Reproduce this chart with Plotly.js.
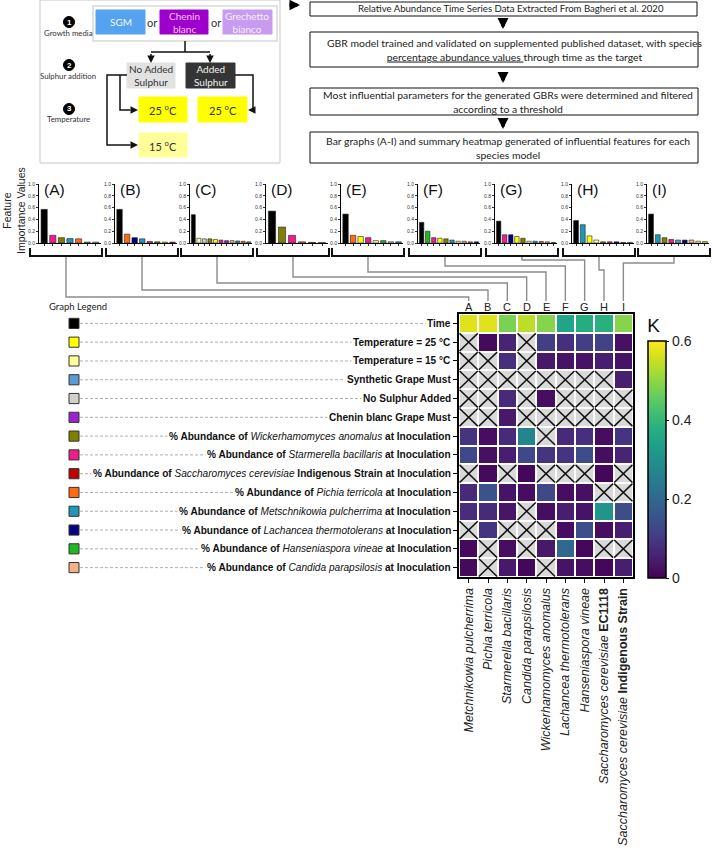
<!DOCTYPE html>
<html><head><meta charset="utf-8">
<script src="https://cdn.plot.ly/plotly-3.0.1.min.js"></script>
<style>html,body{margin:0;padding:0;background:#fff}</style>
</head><body><div id="chart" style="width:713px;height:863px"></div>
<script>
// ---------------- DATA ----------------
const speciesLetters = ['A','B','C','D','E','F','G','H','I'];
const speciesLabels = [
  '<i>Metchnikowia pulcherrima</i>',
  '<i>Pichia terricola</i>',
  '<i>Starmerella bacillaris</i>',
  '<i>Candida parapsilosis</i>',
  '<i>Wickerhamomyces anomalus</i>',
  '<i>Lachancea thermotolerans</i>',
  '<i>Hanseniaspora vineae</i>',
  '<i>Saccharomyces cerevisiae</i> <b>EC1118</b>',
  '<i>Saccharomyces cerevisiae</i> <b>Indigenous Strain</b>'
];
const featureNames = [
  '<b>Time</b>',
  '<b>Temperature = 25 °C</b>',
  '<b>Temperature = 15 °C</b>',
  '<b>Synthetic Grape Must</b>',
  '<b>No Sulphur Added</b>',
  '<b>Chenin blanc Grape Must</b>',
  '<b>% Abundance of </b><i>Wickerhamomyces anomalus</i><b> at Inoculation</b>',
  '<b>% Abundance of </b><i>Starmerella bacillaris</i><b> at Inoculation</b>',
  '<b>% Abundance of </b><i>Saccharomyces cerevisiae</i><b> Indigenous Strain at Inoculation</b>',
  '<b>% Abundance of </b><i>Pichia terricola</i><b> at Inoculation</b>',
  '<b>% Abundance of </b><i>Metschnikowia pulcherrima</i><b> at Inoculation</b>',
  '<b>% Abundance of </b><i>Lachancea thermotolerans</i><b> at Inoculation</b>',
  '<b>% Abundance of </b><i>Hanseniaspora vineae</i><b> at Inoculation</b>',
  '<b>% Abundance of </b><i>Candida parapsilosis</i><b> at Inoculation</b>'
];
const featureColors = ['#000000','#ffff00','#ffff99','#5b9bd5','#d0d0d0','#a020d0','#7f7f00','#ec1e8c','#c00000','#ff6a13','#1f97b8','#000080','#22b822','#f4b183'];

// feature importance per species column A..I (null = below threshold, shown as X)
const timeVals     = [0.57, 0.57, 0.48, 0.54, 0.49, 0.35, 0.37, 0.38, 0.49];
const temp25Vals   = [null, 0.015,0.06, null, 0.11, 0.08, 0.11, 0.12, 0.025];
const temp15Vals   = [null, null, 0.08, null, 0.04, 0.03, 0.03, 0.05, 0.03];
const sgmVals      = [null, null, null, null, null, null, null, null, 0.05];
const noSulphVals  = [null, null, 0.07, null, 0.02, null, null, null, null];
const cheninVals   = [null, null, 0.04, null, null, null, null, null, null];
const wickVals     = [0.09, 0.02, 0.07, 0.27, null, 0.07, 0.08, 0.02, 0.09];
const starmVals    = [0.13, 0.025,0.05, 0.13, 0.09, 0.09, 0.14, 0.02, 0.06];
const sacchIndVals = [null, 0.015,null, 0.01, null, null, null, 0.01, null];
const pichiaVals   = [0.07, 0.15, 0.03, 0.02, 0.13, 0.02, 0.025,null, null];
const metschVals   = [0.075,0.07, 0.035,null, 0.02, 0.05, 0.03, 0.31, 0.14];
const lachVals     = [null, 0.09, null, null, null, 0.02, 0.14, 0.02, 0.05];
const hansVals     = [0.015,null, 0.02, null, 0.04, 0.20, 0.01, null, null];
const candidaVals  = [0.015,null, 0.04, 0.01, null, 0.03, 0.02, 0.01, 0.05];

const importance = [timeVals,temp25Vals,temp15Vals,sgmVals,noSulphVals,cheninVals,wickVals,starmVals,sacchIndVals,pichiaVals,metschVals,lachVals,hansVals,candidaVals];

// ---------------- LAYOUT HELPERS ----------------
const W=713,H=863;
const px=x=>x/W, py=y=>1-y/H;
const ARIAL='Liberation Sans, Arial, sans-serif';
const CAL='Lato, Open Sans, sans-serif';
const shapes=[], annotations=[];
function rect(x0,y0,x1,y1,fill,line,lw){shapes.push({type:'rect',xref:'paper',yref:'paper',x0:px(x0),x1:px(x1),y0:py(y1),y1:py(y0),fillcolor:fill,line:{color:line||fill,width:lw==null?1:lw}});}
function pathPx(pts,color,w,dash){
  const d=pts.map((p,i)=>(i?'L':'M')+px(p[0])+','+py(p[1])).join(' ');
  shapes.push({type:'path',xref:'paper',yref:'paper',path:d,line:{color,width:w,dash:dash||'solid'}});
}
function txt(x,y,t,size,color,family,extra){annotations.push(Object.assign({xref:'paper',yref:'paper',x:px(x),y:py(y),text:t,showarrow:false,font:{size,color,family:family||CAL},xanchor:'center',yanchor:'middle'},extra||{}));}
function arrow(hx,hy,ax,ay,w,color,size){annotations.push({xref:'paper',yref:'paper',x:px(hx),y:py(hy),ax,ay,text:' ',showarrow:true,arrowhead:2,arrowsize:size||1,arrowwidth:w||1.2,arrowcolor:color||'#111',standoff:0,font:{size:1}});}
function circleNum(x,y,n){shapes.push({type:'circle',xref:'paper',yref:'paper',x0:px(x-5.5),x1:px(x+5.5),y0:py(y+5.5),y1:py(y-5.5),fillcolor:'#000',line:{color:'#000',width:1}});txt(x,y,'<b>'+n+'</b>',8,'#fff',ARIAL);}

// ---------------- TOP-LEFT FLOW ----------------
rect(40,0,280,163,'rgba(0,0,0,0)','#c8c8c8',1);
rect(93,6,277,41,'#ffffff','#d8d8d8',1.5);
circleNum(69,22,1); txt(68,33,'Growth media',7.8,'#333');
circleNum(69,65,2); txt(68,76,'Sulphur addition',7.8,'#333');
circleNum(69,109,3); txt(68,119,'Temperature',7.8,'#333');
rect(96,10,145,34,'#55a3f0'); txt(120.5,22,'SGM',10,'#f4f9ff');
txt(151.5,23,'or',11,'#333');
rect(160,10,208,34,'#9d00cc'); txt(184,22,'Chenin<br>blanc',10,'#ffc4ff');
txt(216,23,'or',11,'#333');
rect(223,10,272,34,'#c79cf0'); txt(247.5,22,'Grechetto<br>bianco',10,'#f7eeff');
pathPx([[185,41],[185,52]],'#111',1.5);
pathPx([[151,52],[210,52]],'#111',1.5);
arrow(151,63,0,-11,1.5); arrow(210,63,0,-11,1.5);
rect(127,63,175,88,'#e2e2e2'); txt(151,75.5,'No Added<br>Sulphur',10,'#333');
rect(186,63,235,88,'#353535'); txt(210.5,75.5,'Added<br>Sulphur',10,'#f2f2f2');
pathPx([[127,75],[107,75],[107,145],[130,145]],'#111',1.5);
pathPx([[120,75],[120,110],[130,110]],'#111',1.5);
arrow(138,110,-9,0,1.5); arrow(138,145,-9,0,1.5);
pathPx([[235,75],[253,75],[253,110],[251,110]],'#111',1.5);
arrow(248,110,5,0,1.5);
rect(139,97,187,122,'#ffff00'); txt(163,109.5,'25 <sup>o</sup>C',11,'#333');
rect(198,97,247,122,'#ffff00'); txt(222.5,109.5,'25 <sup>o</sup>C',11,'#333');
rect(139,133,187,157,'#ffff99'); txt(163,145,'15 <sup>o</sup>C',11,'#333');

// ---------------- TOP-RIGHT FLOW ----------------
arrow(300,5,-12,0,3.5,'#000',0.6);
rect(310,2,697,16,'#fff','#111',1);
txt(511,9,'Relative Abundance Time Series Data Extracted From Bagheri et al. 2020',9.6,'#222');
arrow(503,29,0,-8,4,'#000',0.55);
rect(310,32,698,67,'#fff','#111',1);
txt(514,50,'GBR model trained and validated on supplemented published dataset, with species<br><span style="text-decoration:underline">percentage abundance values </span>through time as the target',10.4,'#222');
arrow(503,83,0,-8,4,'#000',0.55);
rect(310,88,698,115,'#fff','#111',1);
txt(508,102,'Most influential parameters for the generated GBRs were determined and filtered<br>according to a threshold',10.4,'#222');
arrow(503,129,0,-8,4,'#000',0.55);
rect(310,132,698,163,'#fff','#111',1);
txt(508,147.5,'Bar graphs (A-I) and summary heatmap generated of influential features for each<br>species model',10.4,'#222');

// ---------------- HEATMAP ----------------
const hmX0=459,hmX1=633,hmY0=314,hmY1=577;
const colIdx=speciesLetters.map((_,j)=>j);
const rowIdx=featureNames.map((_,i)=>i);
const zMissing=importance.map(r=>r.map(v=>v===null?1:null));
const xsX=[],ysX=[];
importance.forEach((r,i)=>r.forEach((v,j)=>{if(v===null){xsX.push(j-0.47,j+0.47,null,j-0.47,j+0.47,null);ysX.push(i-0.47,i+0.47,null,i+0.47,i-0.47,null);}}));

const traces=[];
traces.push({type:'heatmap',z:importance,x:colIdx,y:rowIdx,colorscale:'Viridis',zmin:0,zmax:0.6,xgap:2,ygap:2,hoverinfo:'skip',
  colorbar:{x:px(648),xanchor:'left',xpad:0,ypad:0,y:py(578),yanchor:'bottom',len:(578-315)/H,lenmode:'fraction',thickness:18,thicknessmode:'pixels',
    outlinewidth:1.5,outlinecolor:'#000',tickvals:[0,0.2,0.4,0.6],ticktext:['0','0.2','0.4','0.6'],ticks:'outside',ticklen:3,tickcolor:'#000',
    tickfont:{size:14,family:ARIAL,color:'#222'},title:{text:'K',side:'top',font:{size:19,family:ARIAL,color:'#111'}}}});
traces.push({type:'heatmap',z:zMissing,x:colIdx,y:rowIdx,colorscale:[[0,'#d9d9d9'],[1,'#d9d9d9']],showscale:false,xgap:2,ygap:2,hoverinfo:'skip'});
traces.push({type:'scatter',mode:'lines',x:xsX,y:ysX,line:{color:'#111',width:1.5},hoverinfo:'skip',connectgaps:false});

const layout={width:W,height:H,margin:{l:0,r:0,t:0,b:0},autosize:false,showlegend:false,paper_bgcolor:'#fff',plot_bgcolor:'#fff',font:{family:ARIAL},
  xaxis:{domain:[px(hmX0),px(hmX1)],range:[-0.5,8.5],tickvals:colIdx,ticktext:speciesLabels,tickangle:-90,tickfont:{size:12.5,family:ARIAL,color:'#222'},
    ticks:'outside',ticklen:4,tickcolor:'#000',showline:true,mirror:true,linewidth:2,linecolor:'#000',zeroline:false,showgrid:false,anchor:'y',fixedrange:true},
  yaxis:{domain:[py(hmY1),py(hmY0)],range:[13.5,-0.5],tickvals:rowIdx,showticklabels:false,ticks:'outside',ticklen:4,tickcolor:'#000',showline:true,mirror:true,linewidth:2,linecolor:'#000',zeroline:false,showgrid:false,anchor:'x',fixedrange:true}
};

// row labels, legend swatches and dashed leaders
featureNames.forEach((name,i)=>{
  shapes.push({type:'line',xref:'paper',yref:'y',x0:px(80),x1:px(452),y0:i,y1:i,line:{color:'#9a9a9a',width:0.8,dash:'3px,2px'},layer:'below'});
  shapes.push({type:'rect',xref:'paper',yref:'y',x0:px(69),x1:px(79),y0:i-0.27,y1:i+0.27,fillcolor:featureColors[i],line:{color:'#333',width:1}});
  annotations.push({xref:'paper',yref:'y',x:px(453),y:i,text:name,showarrow:false,xanchor:'right',yanchor:'middle',bgcolor:'#fff',borderpad:1,font:{size:10.1,family:ARIAL,color:'#111'}});
});
txt(47,307,'Graph Legend',9.5,'#222',CAL,{xanchor:'left'});
speciesLetters.forEach((l,j)=>annotations.push({xref:'x',yref:'paper',x:j,y:py(307),text:l,showarrow:false,font:{size:11,family:ARIAL,color:'#222'},yanchor:'middle'}));

// ---------------- BAR PANELS ----------------
const panelAxisX=[39,115,190,266,341,418,495,572,647];
const panelW=62, barTop=184, barBot=243;
const levels=[297,290,283,277,272,266,260,270,263];
speciesLetters.forEach((letter,j)=>{
  const items=importance.map((r,i)=>({v:r[j],c:featureColors[i]})).filter(o=>o.v!==null).sort((a,b)=>b.v-a.v);
  const n=items.length, k=j+2;
  traces.push({type:'bar',x:items.map((_,i)=>i),y:items.map(o=>o.v),marker:{color:items.map(o=>o.c),line:{color:'#222',width:0.6}},width:0.72,xaxis:'x'+k,yaxis:'y'+k,hoverinfo:'skip'});
  const a0=panelAxisX[j];
  layout['xaxis'+k]={domain:[px(a0),px(a0+panelW)],range:[-0.6,n-0.4],anchor:'y'+k,showline:true,linecolor:'#000',linewidth:1,ticks:'outside',ticklen:2,tickwidth:0.8,tickcolor:'#000',tickvals:items.map((_,i)=>i),showticklabels:false,showgrid:false,zeroline:false,fixedrange:true};
  layout['yaxis'+k]={domain:[py(barBot),py(barTop)],range:[0,1],anchor:'x'+k,showline:true,linecolor:'#000',linewidth:1,ticks:'outside',ticklen:2,tickwidth:0.8,tickcolor:'#000',tickvals:[0,0.2,0.4,0.6,0.8,1],ticktext:['0.0','0.2','0.4','0.6','0.8','1.0'],tickfont:{size:5,family:ARIAL,color:'#333'},showgrid:false,zeroline:false,fixedrange:true};
  txt(a0+3,189,'('+letter+')',15.5,'#111',ARIAL,{xanchor:'left'});
  // bracket
  const b0=a0-9,b1=a0+63,cx=(b0+b1)/2;
  pathPx([[b0,248],[b0,256],[b1,256],[b1,248]],'#111',2);
  // connector to heatmap column letter
  const lx=hmX0+(j+0.5)*(hmX1-hmX0)/9;
  pathPx([[cx,257],[cx,levels[j]],[lx,levels[j]],[lx,301]],'#8c8c8c',1.4);
});
txt(14,211,'Feature<br>Importance Values',10.5,'#222',ARIAL,{textangle:-90});

layout.shapes=shapes; layout.annotations=annotations;
Plotly.newPlot('chart',traces,layout,{staticPlot:true,displayModeBar:false});
</script></body></html>
